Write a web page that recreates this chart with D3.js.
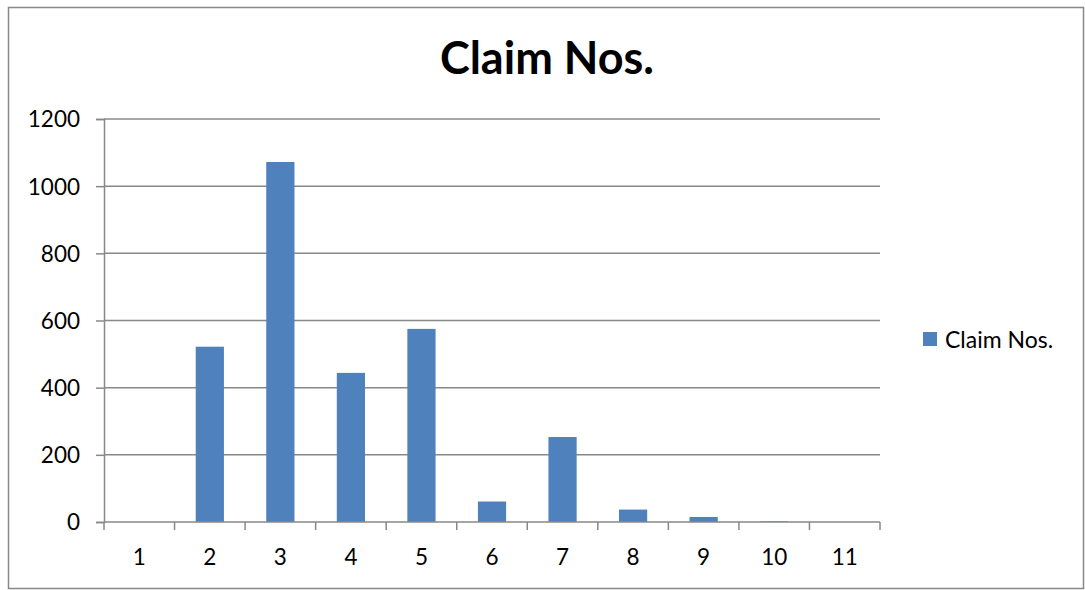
<!DOCTYPE html>
<meta charset="utf-8">
<script src="https://d3js.org/d3.v7.min.js"></script>
<style>
  body { margin: 0; background: #fff; }
  text { font-family: Lato, "Open Sans", sans-serif; fill: #000; }
</style>
<div id="chart"></div>
<script>
  // chart data
  var categories = ["1", "2", "3", "4", "5", "6", "7", "8", "9", "10", "11"]
  var claimNos = [0, 522, 1072, 444, 575, 61, 253, 37, 15, 2, 0]
  var yTicks = [0, 200, 400, 600, 800, 1000, 1200]
  var seriesName = "Claim Nos."

  var W = 1085, H = 590
  var margin = {top: 119, right: 205, bottom: 68, left: 104}
  var width = W - margin.left - margin.right,
      height = H - margin.top - margin.bottom

  var svg = d3.select("#chart").append("svg")
    .attr("width", W)
    .attr("height", H)

  // outer frame
  svg.append("rect")
    .attr("x", 8.5).attr("y", 7.5)
    .attr("width", 1075).attr("height", 581)
    .attr("fill", "none")
    .attr("stroke", "#888")
    .attr("stroke-width", 1.5)

  svg.append("text")
    .attr("x", 547)
    .attr("y", 74)
    .attr("text-anchor", "middle")
    .attr("font-size", "45px")
    .attr("font-weight", "bold")
    .text(seriesName)

  var g = svg.append("g")
    .attr("transform", "translate(" + margin.left + "," + margin.top + ")")

  var x = d3.scaleBand()
    .domain(categories)
    .range([0, width])
    .paddingInner(0.6)
    .paddingOuter(0.3)

  var y = d3.scaleLinear()
    .domain([0, 1200])
    .range([height, 0])

  // gridlines
  g.selectAll(".grid")
    .data(yTicks.slice(1))
    .enter()
    .append("line")
    .attr("x1", 0)
    .attr("x2", width)
    .attr("y1", function (d) { return y(d) })
    .attr("y2", function (d) { return y(d) })
    .attr("stroke", "#888")
    .attr("stroke-width", 1.5)

  // bars
  g.selectAll(".bar")
    .data(claimNos)
    .enter()
    .append("rect")
    .attr("x", function (d, i) { return x(categories[i]) })
    .attr("y", function (d) { return y(d) })
    .attr("width", x.bandwidth())
    .attr("height", function (d) { return height - y(d) })
    .attr("fill", "#4f81bd")

  // y axis
  var yAxis = g.append("g")
    .call(d3.axisLeft(y).tickValues(yTicks).tickSize(8).tickPadding(16).tickFormat(d3.format("d")))
  yAxis.select(".domain").attr("stroke", "#888").attr("stroke-width", 1.5)
  yAxis.selectAll(".tick line").attr("stroke", "#888").attr("stroke-width", 1.5)
  yAxis.selectAll("text").attr("font-size", "22.5px").attr("dy", "0.35em")

  // x axis: ticks at category boundaries
  var step = width / categories.length
  var xAxis = g.append("g")
    .attr("transform", "translate(0," + height + ")")
  xAxis.append("line")
    .attr("x1", 0).attr("x2", width)
    .attr("stroke", "#888").attr("stroke-width", 1.5)
  xAxis.selectAll(".xtick")
    .data(d3.range(categories.length + 1))
    .enter()
    .append("line")
    .attr("x1", function (d) { return d * step })
    .attr("x2", function (d) { return d * step })
    .attr("y1", 0).attr("y2", 8)
    .attr("stroke", "#888").attr("stroke-width", 1.5)
  xAxis.selectAll(".xlabel")
    .data(categories)
    .enter()
    .append("text")
    .attr("x", function (d) { return x(d) + x.bandwidth() / 2 })
    .attr("y", 43)
    .attr("text-anchor", "middle")
    .attr("font-size", "22.5px")
    .text(function (d) { return d })

  // legend
  svg.append("rect")
    .attr("x", 923).attr("y", 332)
    .attr("width", 14).attr("height", 14)
    .attr("fill", "#4f81bd")
  svg.append("text")
    .attr("x", 945).attr("y", 348)
    .attr("font-size", "23px")
    .text(seriesName)
</script>
